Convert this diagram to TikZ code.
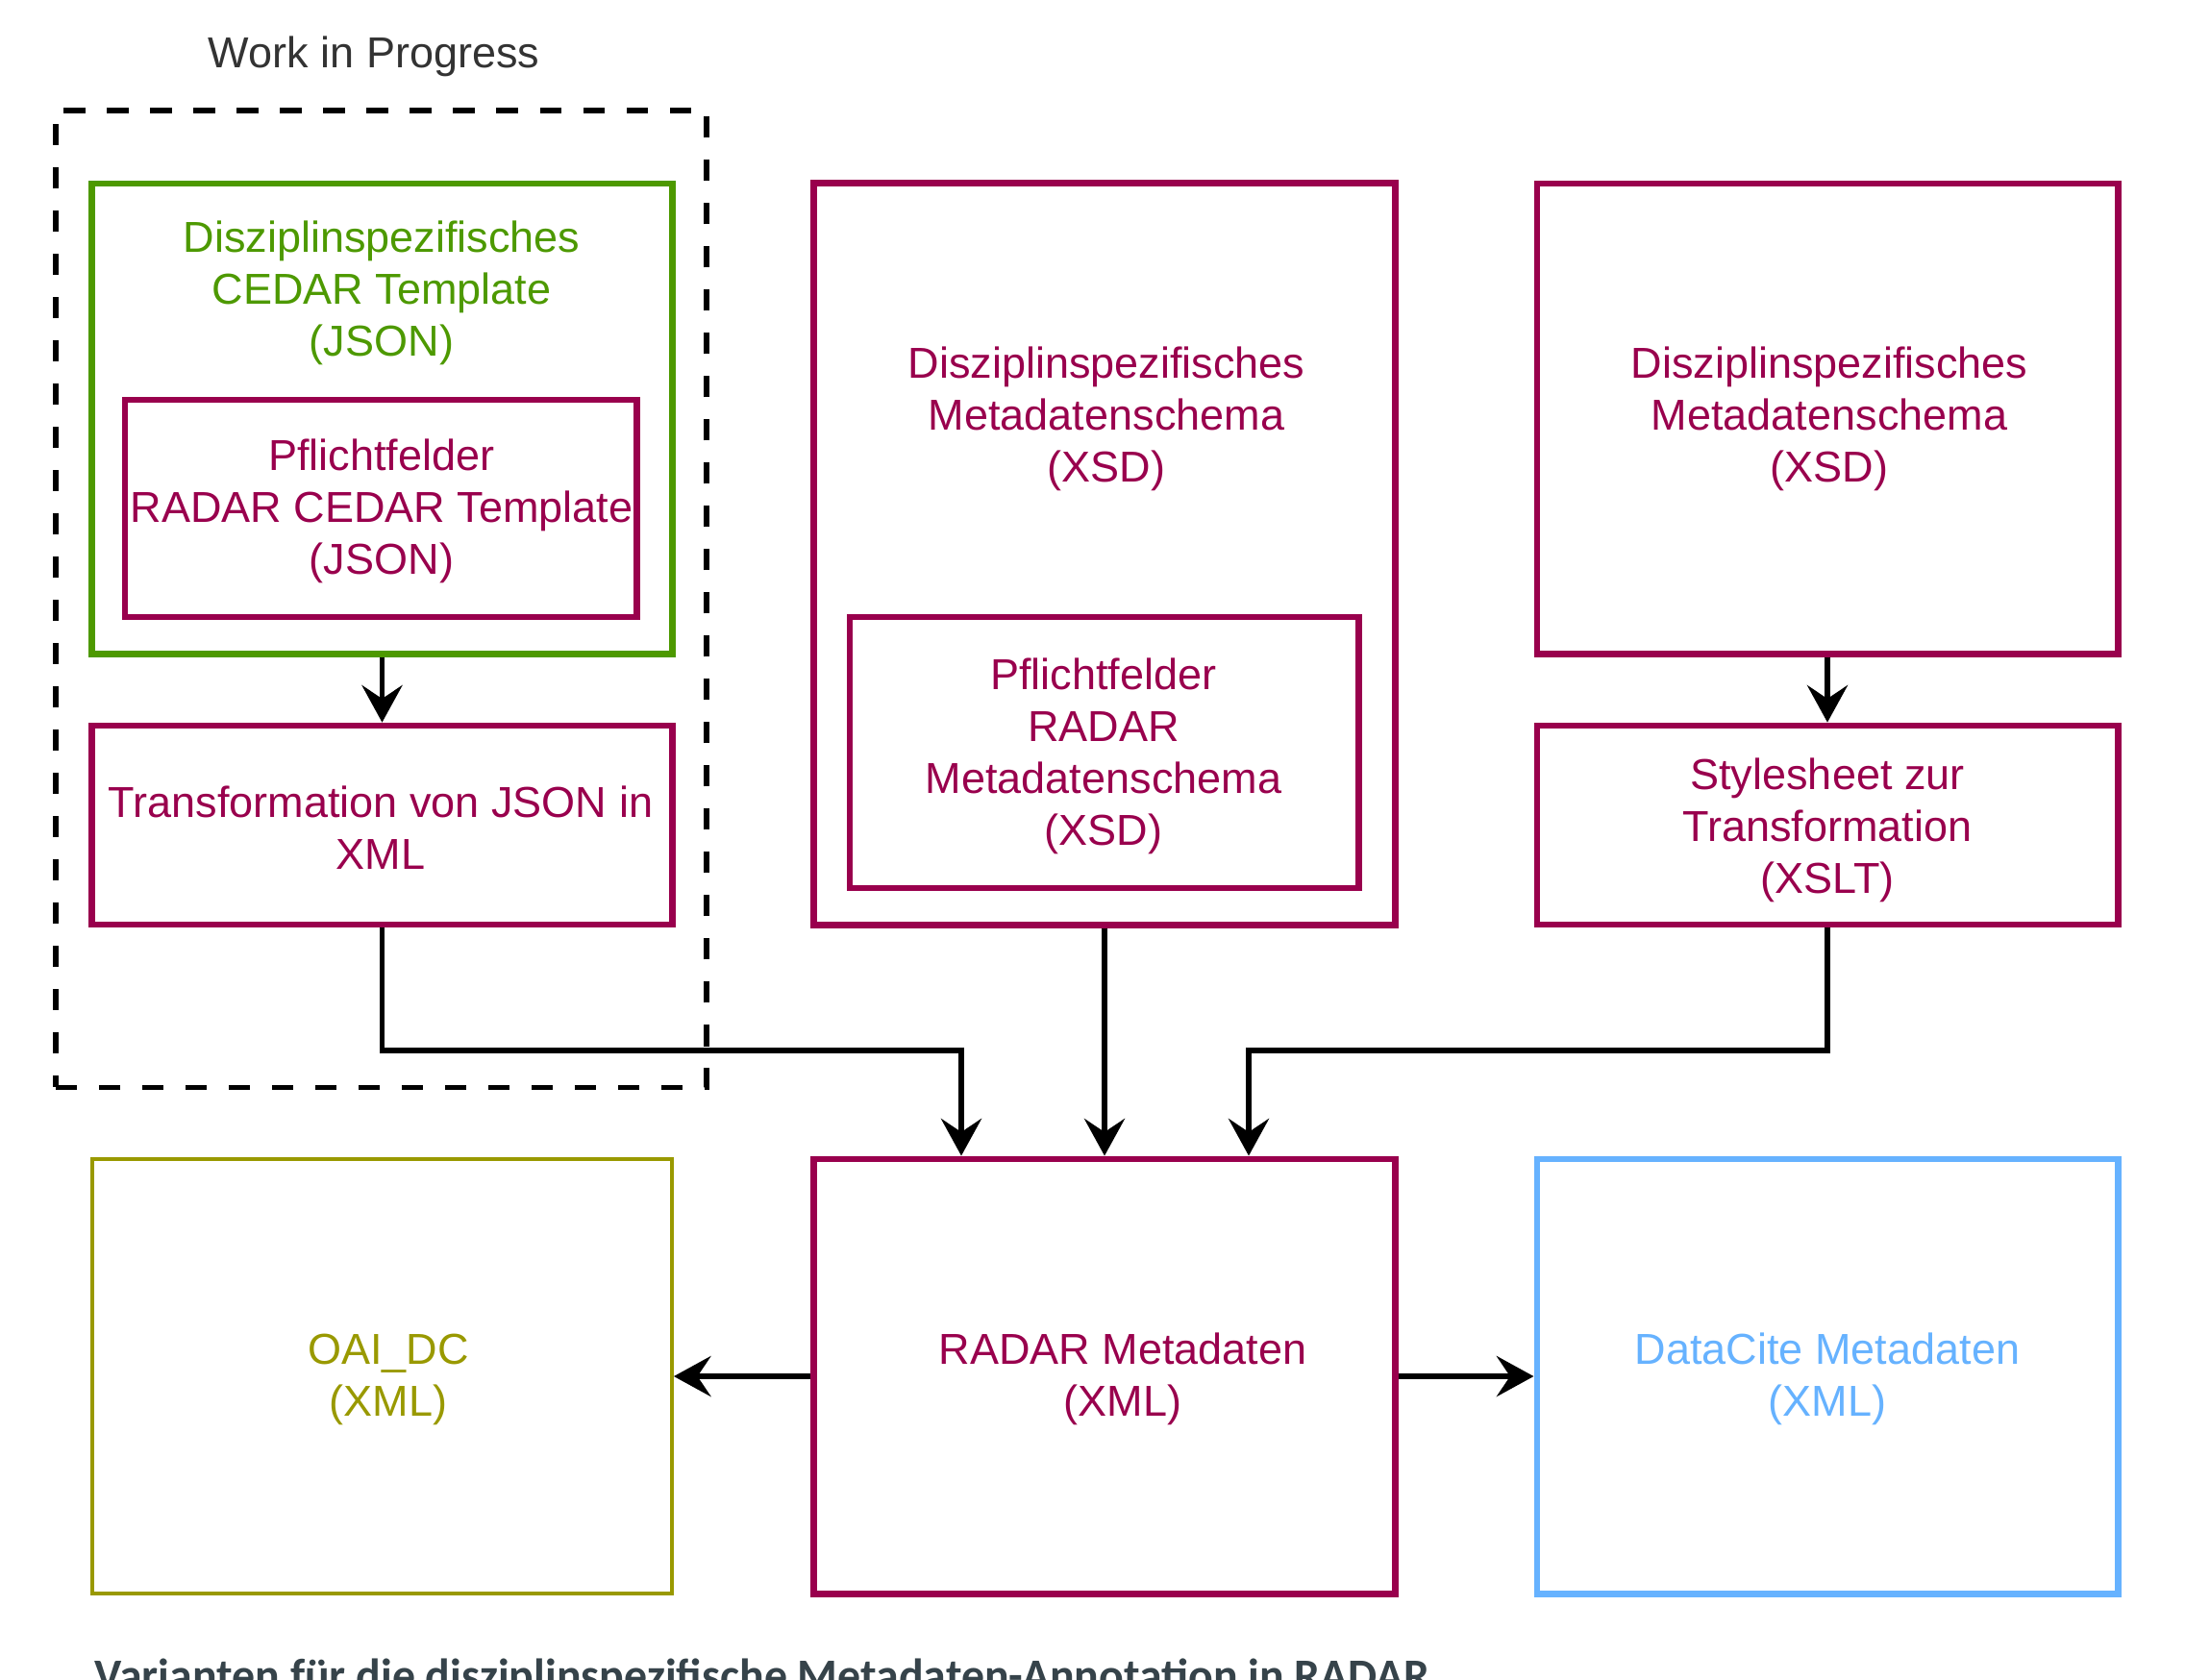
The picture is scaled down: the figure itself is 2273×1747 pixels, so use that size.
\documentclass[tikz,border=0pt]{standalone}
\usepackage{fontspec}
\setmainfont{Liberation Sans}
\newfontfamily\figcapfont{Carlito}
\usetikzlibrary{arrows.meta}

\definecolor{radarpink}{HTML}{99004D}
\definecolor{cedargreen}{HTML}{4D9900}
\definecolor{oaiolive}{HTML}{999900}
\definecolor{dcblue}{HTML}{66B2FF}
\definecolor{wipgray}{HTML}{333333}
\definecolor{capgray}{HTML}{36434A}

\begin{document}
\begin{tikzpicture}[x=0.01cm,y=-0.01cm,line width=1.5pt,
        >={Stealth[length=11pt,width=12pt,inset=4pt]},
        box/.style={draw=radarpink,line width=1.9pt,inner sep=0pt},
        txt/.style={inner sep=0pt,align=center,font=\fontsize{12.8pt}{15.4pt}\selectfont}]
        \useasboundingbox (0,0) rectangle (2273,1747);

        % Work in Progress
        \node[draw=black,dash pattern=on 6.3pt off 6.5pt,line width=1.6pt,
              minimum width=6.77cm,minimum height=10.16cm] (wip) at (396.5,623) {};
        \node[txt,text=wipgray] (wiplbl) at (389,59) {Work in Progress};

        \node[box,draw=cedargreen,minimum width=6.03cm,minimum height=4.89cm] (cedar) at (397.5,435.5) {};
        \node[txt,text=cedargreen] (cedarlbl) at (397,305) {Disziplinspezifisches\\CEDAR Template\\(JSON)};
        \node[box,minimum width=5.32cm,minimum height=2.26cm] (pflichtC) at (396,529) {};
        \node[txt,text=radarpink] (pflichtClbl) at (397,532) {Pflichtfelder\\RADAR CEDAR Template\\(JSON)};
        \node[box,minimum width=6.03cm,minimum height=2.07cm] (trans) at (397.5,858.5) {};
        \node[txt,text=radarpink] (translbl) at (396,861) {Transformation von JSON in\\XML};

        % XSD
        \node[box,minimum width=6.04cm,minimum height=7.71cm] (schema) at (1149,576.5) {};
        \node[txt,text=radarpink] (schemalbl) at (1151,436) {Disziplinspezifisches\\Metadatenschema\\(XSD)};
        \node[box,minimum width=5.29cm,minimum height=2.82cm] (pflichtX) at (1148.5,783) {};
        \node[txt,text=radarpink] (pflichtXlbl) at (1148,787) {Pflichtfelder\\RADAR\\Metadatenschema\\(XSD)};

        % XSLT
        \node[box,minimum width=6.04cm,minimum height=4.89cm] (schemaS) at (1901,435.5) {};
        \node[txt,text=radarpink] (schemaSlbl) at (1903,436) {Disziplinspezifisches\\Metadatenschema\\(XSD)};
        \node[box,minimum width=6.04cm,minimum height=2.07cm] (xslt) at (1901,858.5) {};
        \node[txt,text=radarpink] (xsltlbl) at (1901,864) {Stylesheet zur\\Transformation\\(XSLT)};

        % Ausgabe
        \node[box,draw=oaiolive,line width=1pt,minimum width=6.03cm,minimum height=4.52cm] (oai) at (397.5,1432) {};
        \node[txt,text=oaiolive] (oailbl) at (404,1435) {OAI\_DC\\(XML)};
        \node[box,minimum width=6.04cm,minimum height=4.52cm] (radar) at (1149,1432) {};
        \node[txt,text=radarpink] (radarlbl) at (1168,1435) {RADAR Metadaten\\(XML)};
        \node[box,draw=dcblue,minimum width=6.04cm,minimum height=4.52cm] (datacite) at (1901,1432) {};
        \node[txt,text=dcblue] (datacitelbl) at (1901,1435) {DataCite Metadaten\\(XML)};

        \coordinate (bendL) at (1000,1093);
        \coordinate (bendR) at (1299,1093);

        \draw[->] (cedar) -- (trans);
        \draw[->] (schemaS) -- (xslt);
        \draw[->] (trans.south) |- (bendL) -- (bendL |- radar.north);
        \draw[->] (schema) -- (radar);
        \draw[->] (xslt.south) |- (bendR) -- (bendR |- radar.north);
        \draw[->] (radar) -- (oai);
        \draw[->] (radar) -- (datacite);

        \node[anchor=base west,inner sep=0pt,text=capgray,
              font=\figcapfont\bfseries\fontsize{13.6pt}{16pt}\selectfont] (caption) at (96,1759)
              {Varianten für die disziplinspezifische Metadaten-Annotation in RADAR};
    \end{tikzpicture}
\end{document}
